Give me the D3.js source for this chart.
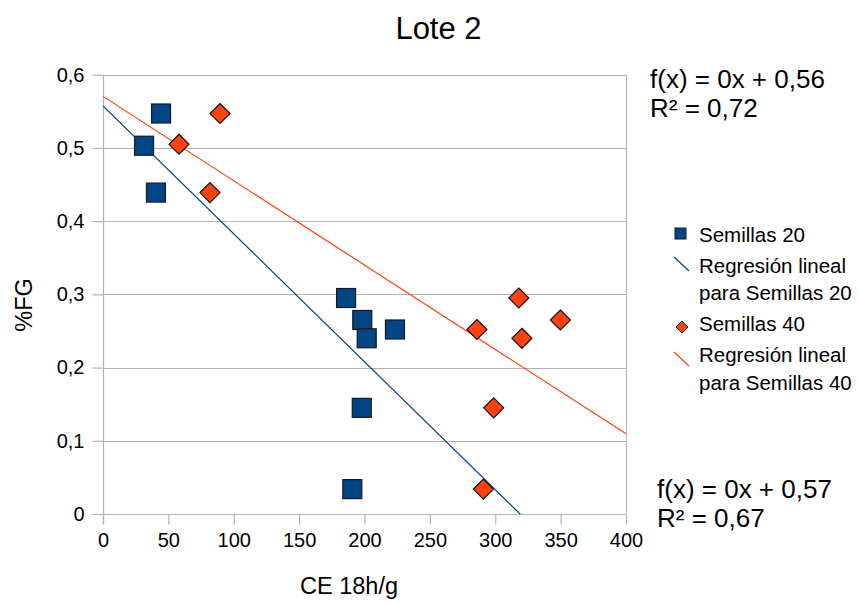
<!DOCTYPE html>
<html>
<head>
<meta charset="utf-8">
<script src="https://cdn.jsdelivr.net/npm/d3@7"></script>
<style>
  html, body { margin: 0; padding: 0; background: #fff; }
  svg { display: block; font-family: "Liberation Sans", Arial, sans-serif; }
</style>
</head>
<body>
<svg id="chart" width="859" height="604"></svg>
<script>
// ---- Data ----
const title = "Lote 2";
const xLabel = "CE 18h/g";
const yLabel = "%FG";
const xTicks = [0, 50, 100, 150, 200, 250, 300, 350, 400];
const yTicks = [0, 0.1, 0.2, 0.3, 0.4, 0.5, 0.6];
const yTickLabels = ["0", "0,1", "0,2", "0,3", "0,4", "0,5", "0,6"];

const s20x = [44.4, 31.4, 40.5, 185.9, 198.3, 201.7, 223.3, 197.9, 190.7];
const s20y = [0.547, 0.503, 0.439, 0.295, 0.265, 0.240, 0.252, 0.145, 0.034];
const s40x = [89.5, 58.1, 81.8, 318.0, 286.0, 349.8, 320.4, 298.8, 290.9];
const s40y = [0.547, 0.505, 0.439, 0.295, 0.252, 0.265, 0.240, 0.145, 0.034];

const seriesNames = ["Semillas 20", "Semillas 40"];
const regLegend = [["Regresión lineal", "para Semillas 20"], ["Regresión lineal", "para Semillas 40"]];
const eq20 = ["f(x) = 0x + 0,56", "R² = 0,72"];
const eq40 = ["f(x) = 0x + 0,57", "R² = 0,67"];

// ---- Styles ----
const c20 = "#004586", c40 = "#ff420e", grid = "#b3b3b3";

const svg = d3.select("#chart");
const m = { left: 103, right: 626, top: 74.7, bottom: 514 };
const x = d3.scaleLinear().domain([0, 400]).range([m.left, m.right]);
const y = d3.scaleLinear().domain([0, 0.6]).range([m.bottom, m.top]);

// least squares fit from the data
function fit(xs, ys) {
  const mx = d3.mean(xs), my = d3.mean(ys);
  let sxy = 0, sxx = 0;
  xs.forEach((v, i) => { sxy += (v - mx) * (ys[i] - my); sxx += (v - mx) * (v - mx); });
  const b = sxy / sxx;
  return { b, a: my - b * mx };
}

// gridlines
svg.append("g").selectAll("line").data(yTicks.filter(d => d > 0)).join("line")
  .attr("x1", m.left).attr("x2", m.right)
  .attr("y1", d => Math.round(y(d)) + 0.5).attr("y2", d => Math.round(y(d)) + 0.5)
  .attr("stroke", grid).attr("stroke-width", 1);
// right border
svg.append("line").attr("x1", m.right + 0.5).attr("x2", m.right + 0.5)
  .attr("y1", y(0.6)).attr("y2", y(0)).attr("stroke", grid);

// axes
const xAxis = d3.axisBottom(x).tickValues(xTicks).tickSize(10).tickPadding(8).tickFormat(d3.format("d"));
const gx = svg.append("g").attr("transform", `translate(0,${Math.round(y(0)) + 0.5})`).call(xAxis);
const yAxis = d3.axisLeft(y).tickValues(yTicks).tickSize(11).tickPadding(8).tickFormat((d, i) => yTickLabels[i]);
const gy = svg.append("g").attr("transform", `translate(${Math.round(m.left) + 0.5},0)`).call(yAxis);
[gx, gy].forEach(g => {
  g.selectAll("path").attr("stroke", grid).attr("stroke-width", 1.2);
  g.selectAll("line").attr("stroke", grid).attr("stroke-width", 1.2);
  g.selectAll("text").attr("fill", "#000").attr("font-size", 20).attr("font-family", "Liberation Sans, Arial, sans-serif");
});
gx.select(".domain").attr("d", `M${m.left},0H${m.right}`);
gy.select(".domain").attr("d", `M0,${y(0.6)}V${y(0) + 10}`);

// regression lines (clipped to plot)
svg.append("clipPath").attr("id", "clip").append("rect")
  .attr("x", m.left).attr("y", m.top).attr("width", m.right - m.left).attr("height", m.bottom - m.top);
const lines = [[s20x, s20y, c20], [s40x, s40y, c40]];
lines.forEach(([xs, ys, col]) => {
  const f = fit(xs, ys);
  svg.append("line").attr("clip-path", "url(#clip)")
    .attr("x1", x(0)).attr("y1", y(f.a))
    .attr("x2", x(400)).attr("y2", y(f.a + f.b * 400))
    .attr("stroke", col).attr("stroke-width", 1.2);
});

// markers
const sq = 19;
svg.append("g").selectAll("rect").data(s20x.map((v, i) => [v, s20y[i]])).join("rect")
  .attr("x", d => x(d[0]) - sq / 2).attr("y", d => y(d[1]) - sq / 2)
  .attr("width", sq).attr("height", sq)
  .attr("fill", c20).attr("stroke", "#1a1a1a").attr("stroke-width", 1.2);
const dr = 10;
svg.append("g").selectAll("path").data(s40x.map((v, i) => [v, s40y[i]])).join("path")
  .attr("d", d => { const cx = x(d[0]), cy = y(d[1]); return `M${cx},${cy - dr}L${cx + dr},${cy}L${cx},${cy + dr}L${cx - dr},${cy}Z`; })
  .attr("fill", c40).attr("stroke", "#111").attr("stroke-width", 1.2);

// title
svg.append("text").attr("x", 438.5).attr("y", 39).attr("text-anchor", "middle")
  .attr("font-size", 31).text(title);
// axis titles
svg.append("text").attr("x", 349).attr("y", 594).attr("text-anchor", "middle")
  .attr("font-size", 23.5).text(xLabel);
svg.append("text").attr("transform", "translate(32,305) rotate(-90)").attr("text-anchor", "middle")
  .attr("font-size", 23.5).text(yLabel);

// equations
svg.append("g").selectAll("text").data(eq20).join("text")
  .attr("x", 650).attr("y", (d, i) => 88 + i * 29).attr("font-size", 26).text(d => d);
svg.append("g").selectAll("text").data(eq40).join("text")
  .attr("x", 657).attr("y", (d, i) => 498 + i * 29).attr("font-size", 26).text(d => d);

// legend
const lg = svg.append("g");
lg.append("rect").attr("x", 675).attr("y", 228).attr("width", 11).attr("height", 11)
  .attr("fill", c20).attr("stroke", "#1a1a1a").attr("stroke-width", 1);
lg.append("line").attr("x1", 674).attr("y1", 257).attr("x2", 689).attr("y2", 271).attr("stroke", c20).attr("stroke-width", 1.2);
lg.append("path").attr("d", "M682,321L688,327L682,333L676,327Z").attr("fill", c40).attr("stroke", "#111").attr("stroke-width", 1);
lg.append("line").attr("x1", 674).attr("y1", 352).attr("x2", 689).attr("y2", 366).attr("stroke", c40).attr("stroke-width", 1.2);
const legTexts = [seriesNames[0], regLegend[0][0], regLegend[0][1], seriesNames[1], regLegend[1][0], regLegend[1][1]];
const legBase = [242, 273, 299.5, 331, 362, 390];
lg.selectAll("text").data(legTexts).join("text")
  .attr("x", 699).attr("y", (d, i) => legBase[i]).attr("font-size", 20.5).text(d => d);
</script>
</body>
</html>
